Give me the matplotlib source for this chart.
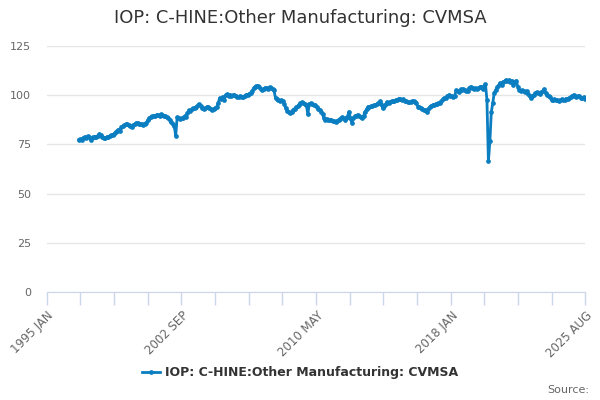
import matplotlib
matplotlib.use("Agg")
import matplotlib.pyplot as plt
import numpy as np

# monthly index, month 0 = 1995 JAN; series starts Nov 1996 (month 22)
start_month = 22
values = [
    77.4, 77.6,                                                            # 1996 Nov-Dec
    77.3, 78.2, 78.9, 78.4, 79.1, 78.7, 77.3, 78.0, 78.6, 79.0, 78.8, 79.5,  # 1997
    80.3, 79.8, 79.0, 78.2, 78.4, 78.7, 78.9, 79.2, 79.6, 79.8, 80.4, 81.3,  # 1998
    81.8, 82.5, 81.9, 84.0, 84.3, 84.8, 85.2, 85.4, 84.9, 84.6, 83.6, 84.8,  # 1999
    85.3, 85.7, 85.9, 85.6, 85.2, 85.4, 85.1, 85.6, 86.1, 87.2, 88.4, 89.0,  # 2000
    89.2, 89.6, 89.3, 90.1, 89.8, 89.5, 90.2, 89.9, 89.4, 89.6, 88.9, 88.3,  # 2001
    87.6, 86.3, 85.2, 84.6, 79.3, 88.8, 88.2, 87.7, 88.3, 88.6, 89.4, 89.0,  # 2002
    91.0, 92.3, 92.0, 92.8, 93.3, 93.6, 94.2, 94.8, 95.4, 94.6, 93.7, 92.9,  # 2003
    93.4, 93.9, 94.2, 93.6, 93.2, 92.4, 93.0, 93.5, 94.1, 96.2, 98.6, 98.1,  # 2004
    99.3, 97.4, 100.1, 100.4, 99.8, 100.2, 99.6, 99.9, 100.1, 99.4, 99.0, 99.3,  # 2005
    99.6, 98.9, 99.3, 99.7, 100.2, 100.0, 100.6, 101.2, 102.0, 103.5, 104.2, 104.6,  # 2006
    104.8, 104.4, 103.2, 102.6, 103.1, 103.8, 103.5, 103.2, 104.1, 103.9, 103.0, 102.4,  # 2007
    98.4, 97.9, 97.6, 97.0, 97.5, 97.3, 95.4, 93.4, 92.2, 91.3, 90.8, 91.6,  # 2008
    92.5, 93.2, 93.8, 94.4, 95.2, 95.9, 96.4, 96.0, 95.6, 95.1, 90.2, 95.7,  # 2009
    95.8, 95.3, 95.0, 94.8, 94.0, 93.1, 92.5, 91.7, 90.6, 88.2, 87.3, 87.8,  # 2010
    87.6, 87.2, 87.5, 87.0, 86.8, 86.5, 87.1, 87.6, 88.1, 88.8, 88.2, 87.6,  # 2011
    88.3, 89.0, 91.6, 88.4, 85.8, 88.6, 89.2, 89.6, 90.1, 89.3, 88.7, 88.2,  # 2012
    89.5, 91.6, 92.8, 94.1, 94.0, 94.3, 94.7, 95.0, 94.8, 95.3, 96.0, 96.8,  # 2013
    95.6, 93.4, 94.6, 95.5, 96.6, 96.2, 96.7, 97.0, 96.8, 97.3, 97.6, 97.8,  # 2014
    98.3, 98.1, 97.6, 97.9, 97.3, 96.8, 96.6, 96.3, 96.5, 96.9, 97.0, 96.6,  # 2015
    95.8, 94.2, 93.9, 93.6, 93.1, 92.6, 92.3, 91.7, 92.8, 93.9, 94.6, 95.0,  # 2016
    95.2, 95.5, 95.4, 95.9, 96.1, 96.8, 97.9, 98.5, 98.8, 99.4, 100.1, 99.7,  # 2017
    99.5, 99.1, 99.4, 102.5, 102.2, 101.6, 102.9, 102.4, 103.1, 102.6, 101.9, 102.3,  # 2018
    103.8, 104.4, 103.9, 103.4, 103.7, 103.2, 103.5, 104.1, 104.4, 102.9, 104.6, 105.6,  # 2019
    97.6, 66.4, 76.5, 91.5, 96.2, 101.3, 102.6, 104.2, 105.0, 106.3, 105.4, 106.8,  # 2020
    107.1, 107.8, 107.2, 107.6, 106.8, 107.3, 105.2, 106.6, 107.4, 104.3, 102.7, 102.2,  # 2021
    102.4, 102.0, 101.6, 102.2, 100.4, 99.7, 98.5, 99.4, 100.3, 100.9, 101.4, 101.1,  # 2022
    100.8, 101.5, 102.0, 103.1, 101.2, 100.2, 99.6, 99.0, 97.7, 97.4, 97.9, 97.6,  # 2023
    97.4, 96.8, 97.6, 97.9, 97.5, 97.8, 98.3, 98.1, 98.5, 99.2, 99.6, 100.2,  # 2024
    99.6, 98.9, 99.4, 99.7, 98.8, 98.4, 98.9, 98.2,                          # 2025 Jan-Aug
]
tick_labels = ["1995 JAN", "2002 SEP", "2010 MAY", "2018 JAN", "2025 AUG"]
tick_months = [0, 92, 184, 276, 367]
y_ticks = [0, 25, 50, 75, 100, 125]

title = "IOP: C-HINE:Other Manufacturing: CVMSA"
color = "#0b7dc1"

months = np.arange(start_month, start_month + len(values))

fig = plt.figure(figsize=(6, 4), dpi=100)
ax = fig.add_axes([0.0775, 0.27, 0.898, 0.615])

ax.plot(months, values, color=color, lw=2, marker="o", ms=3.4, mew=0,
        label=title)

ax.set_xlim(0, 367)
ax.set_ylim(0, 125)
ax.set_yticks(y_ticks)
ax.yaxis.grid(True, color="#e6e6e6", lw=1)
ax.set_axisbelow(True)
ax.tick_params(axis="y", length=0, labelsize=8, labelcolor="#666666", pad=11)

# tick marks come from the minor ticks, labels from the major ones
ax.xaxis.remove_overlapping_locs = False
ax.set_xticks(np.linspace(0, 367, 17), minor=True)
ax.set_xticks(tick_months)
ax.set_xticklabels(tick_labels, rotation=45, ha="right", va="top",
                   rotation_mode="anchor")
ax.tick_params(axis="x", which="minor", length=9, color="#ccd6eb", width=1)
ax.tick_params(axis="x", which="major", length=0, labelsize=8.5,
               labelcolor="#666666", pad=12)

for s in ["top", "right", "left"]:
    ax.spines[s].set_visible(False)
ax.spines["bottom"].set_color("#ccd6eb")

fig.text(0.5, 0.955, title, ha="center", va="center", fontsize=12.9,
         color="#333333")

leg = fig.legend(loc="center", bbox_to_anchor=(0.5, 0.068), frameon=False,
                 prop={"weight": "bold", "size": 9}, handlelength=1.5,
                 handletextpad=0.4)
for t in leg.get_texts():
    t.set_color("#333333")

fig.text(0.982, 0.025, "Source:", ha="right", va="center", fontsize=8,
         color="#666666")

fig.savefig("out.png", dpi=100)
